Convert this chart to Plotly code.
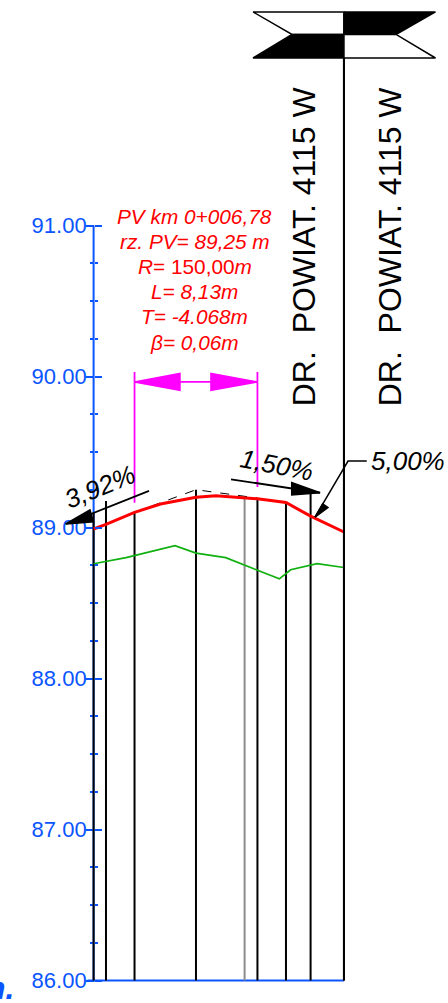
import plotly.graph_objects as go

# --- profile data (station in m, elevation in m) ---
design_st = [0, 0.82, 2.71, 4.43, 6.78, 8.1, 10.85, 12.74, 14.37, 16.58]
design_el = [88.99, 89.02, 89.10, 89.155, 89.20, 89.21, 89.19, 89.165, 89.075, 88.97]
terrain_st = [0, 1.09, 2.15, 5.39, 6.78, 8.75, 10.85, 12.3, 13.05, 14.8, 16.58]
terrain_el = [88.76, 88.78, 88.80, 88.88, 88.83, 88.80, 88.72, 88.66, 88.72, 88.76, 88.735]
tangent_st = [2.71, 6.78, 10.85]
tangent_el = [89.10, 89.25, 89.195]
cross_st = [0, 0.82, 2.71, 6.78, 10.85, 12.74, 14.37, 16.58]
cross_top = [89.096, 89.175, 89.10, 89.25, 89.195, 89.165, 89.23, 92.109]
gray_st = [10.0]
gray_top = [89.20]
BASE = 86.0
AXIS_TOP = 91.0

# --- curve dimension ---
dim_left, dim_right = 2.71, 10.85
dim_el = 89.964
dim_top = 90.03
dim_bot_left, dim_bot_right = 89.164, 89.268
dim_head_base_left, dim_head_base_right = 5.72, 7.77
dim_head_half = 0.056

# --- slope arrows ---
a392_x = [3.67, -1.85]; a392_y = [89.242, 89.023]
a392_hx = [-1.85, -0.24, -0.02]; a392_hy = [89.023, 89.116, 89.038]
a150_x = [9.10, 15.0]; a150_y = [89.319, 89.23]
a150_hx = [15.0, 13.12, 13.12]; a150_hy = [89.23, 89.297, 89.215]
a500_x = [18.09, 16.85, 14.66]; a500_y = [89.44, 89.44, 89.068]
a500_hx = [14.66, 15.17, 15.52]; a500_hy = [89.068, 89.156, 89.132]

# --- north-style flag symbol ---
flag_x = [10.556, 13.14, 16.58, 20.03, 22.64]
flag_y = [92.109, 92.265, 92.414]

# --- labels ---
curve_lines = ["<i>PV km 0+006,78</i>", "<i>rz. PV= 89,25 m</i>", "<i>R</i>= 150,00<i>m</i>",
               "<i>L= 8,13m</i>", "<i>T= -4.068m</i>", "<i>β= 0,06m</i>"]
curve_line_el = [91.06, 90.895, 90.73, 90.565, 90.395, 90.225]
road_label = "DR.\u00a0\u00a0POWIAT.\u00a04115\u00a0W"
road_label_st = [13.95, 19.65]
road_label_el = 90.864

BLACK, BLUE, RED, GREEN, MAG = "#000000", "#0a55ff", "#ff0000", "#10b010", "#ff00ff"
fig = go.Figure()


def line(x, y, color=BLACK, w=2.0, dash=None, ya="y2"):
    fig.add_trace(go.Scatter(x=x, y=y, mode="lines", yaxis=ya, hoverinfo="skip",
                             line=dict(color=color, width=w, dash=dash)))


def poly(x, y, color=BLACK, fill=None):
    fig.add_trace(go.Scatter(x=x + x[:1], y=y + y[:1], mode="lines", fill="toself", yaxis="y2",
                             fillcolor=fill or color, hoverinfo="skip",
                             line=dict(color=color, width=1.5)))


# carrier traces that bring the two tick axes on, then the visible blue stem
line([0, 0], [BASE, AXIS_TOP], "rgba(0,0,0,0)", 0, ya="y")
line([0, 0], [BASE, AXIS_TOP], "rgba(0,0,0,0)", 0, ya="y3")
line([0, 0], [BASE, AXIS_TOP], BLUE, 2.0)
line([-0.4, design_st[-1]], [BASE, BASE], BLUE, 2.0)

# cross-section verticals
for s, t in zip(cross_st, cross_top):
    line([s, s], [BASE, t], BLACK, 2.0)
for s, t in zip(gray_st, gray_top):
    line([s, s], [BASE, t], "#8c8c8c", 2.0)

# terrain, tangents, design
line(terrain_st, terrain_el, GREEN, 1.7)
line(tangent_st, tangent_el, BLACK, 1.0, "dash")
line(design_st, design_el, RED, 3.0)

# curve dimension
line([dim_left, dim_left], [dim_top, dim_bot_left], MAG, 1.8)
line([dim_right, dim_right], [dim_top, dim_bot_right], MAG, 1.8)
line([dim_left, dim_right], [dim_el, dim_el], MAG, 1.8)
poly([dim_left, dim_head_base_left, dim_head_base_left],
     [dim_el, dim_el + dim_head_half, dim_el - dim_head_half], MAG)
poly([dim_right, dim_head_base_right, dim_head_base_right],
     [dim_el, dim_el + dim_head_half, dim_el - dim_head_half], MAG)

# slope arrows
line(a392_x, a392_y, BLACK, 1.8); poly(a392_hx, a392_hy)
line(a150_x, a150_y, BLACK, 1.8); poly(a150_hx, a150_hy)
line(a500_x, a500_y, BLACK, 1.5); poly(a500_hx, a500_hy)

# flag symbol
fx, fy = flag_x, flag_y
poly([fx[0], fx[2], fx[2], fx[1]], [fy[2], fy[2], fy[1], fy[1]], BLACK, "#ffffff")
poly([fx[2], fx[4], fx[3], fx[2]], [fy[2], fy[2], fy[1], fy[1]], BLACK)
poly([fx[1], fx[2], fx[2], fx[0]], [fy[1], fy[1], fy[0], fy[0]], BLACK)
poly([fx[2], fx[3], fx[4], fx[2]], [fy[1], fy[1], fy[0], fy[0]], BLACK, "#ffffff")
line([fx[2], fx[2]], [BASE, fy[0]], BLACK, 2.0)

ann = []
def note(x, y, text, size, color=BLACK, angle=0, italic=False, family="Liberation Sans", xanchor="center"):
    ann.append(dict(x=x, y=y, xref="x", yref="y2", text=text, showarrow=False, textangle=angle,
                    xanchor=xanchor, yanchor="middle",
                    font=dict(size=size, color=color, family=family,
                              style="italic" if italic else "normal")))


for t, e in zip(curve_lines, curve_line_el):
    note(6.7, e, t, 20.8, RED)
for s in road_label_st:
    note(s, road_label_el, road_label, 32, BLACK, angle=-90)
note(0.4, 89.27, "3,92%", 26, BLACK, angle=-22, italic=True)
note(12.13, 89.414, "1,50%", 26, BLACK, angle=11, italic=True)
note(20.8, 89.44, "5,00%", 26, BLACK, italic=True)
note(-5.15, 85.95, "<b>m.</b>", 32, BLUE, italic=True, xanchor="right")

axis_common = dict(domain=[0.02243, 0.77517], range=[BASE, AXIS_TOP], anchor="free", position=0.2089,
                   showgrid=False, zeroline=False, showline=False, dtick=1, ticks="outside",
                   ticklen=7.5, tickwidth=1.6, tickcolor=BLUE, automargin=False,
                   minor=dict(dtick=0.25, ticks="outside", ticklen=3.5, tickwidth=1.6, tickcolor=BLUE))

fig.update_layout(
    width=448, height=1003, margin=dict(l=0, r=0, t=0, b=0, pad=0, autoexpand=False),
    paper_bgcolor="#ffffff", plot_bgcolor="rgba(0,0,0,0)", showlegend=False, annotations=ann,
    xaxis=dict(domain=[0, 1], range=[-6.199, 23.47], visible=False, automargin=False),
    yaxis=dict(**axis_common, side="left", tickformat=".2f", ticklabelstandoff=-5,
               tickfont=dict(family="Liberation Sans", size=22, color=BLUE)),
    yaxis3=dict(**axis_common, side="right", showticklabels=False),
    yaxis2=dict(domain=[0, 1], range=[85.851, 92.493], visible=False, automargin=False),
)

fig.write_html("out.html", config=dict(displayModeBar=False),
               post_script="document.body.style.margin='0';")
